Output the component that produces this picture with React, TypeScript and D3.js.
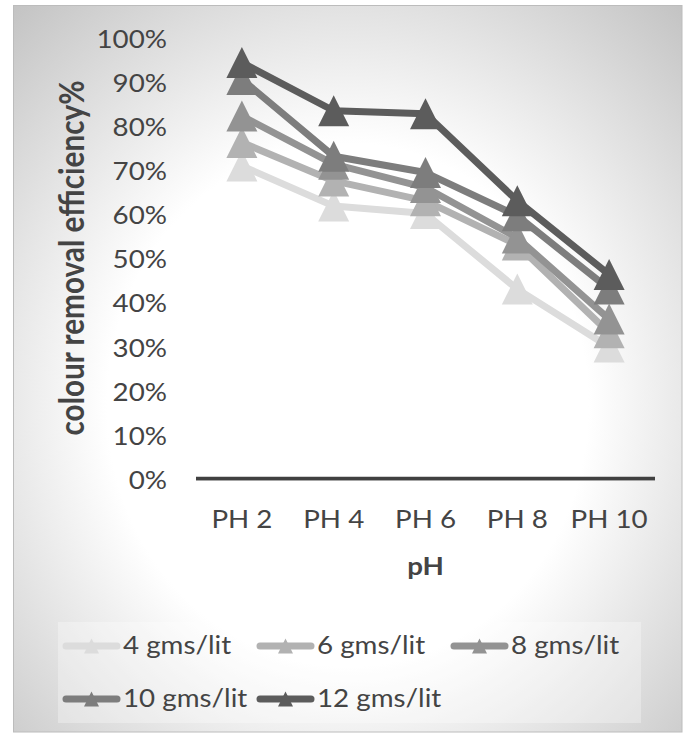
import React from "react";
import * as d3 from "d3";

// pH categories on the x axis
const categories = ["PH 2", "PH 4", "PH 6", "PH 8", "PH 10"];

// Adsorbent dose series (colour removal efficiency, fraction)
const seriesNames = ["4 gms/lit", "6 gms/lit", "8 gms/lit", "10 gms/lit", "12 gms/lit"];
const dose4 = [0.708, 0.617, 0.6, 0.429, 0.298];
const dose6 = [0.761, 0.674, 0.629, 0.529, 0.33];
const dose8 = [0.821, 0.712, 0.659, 0.545, 0.361];
const dose10 = [0.904, 0.73, 0.693, 0.595, 0.429];
const dose12 = [0.942, 0.833, 0.826, 0.629, 0.462];
const seriesValues = [dose4, dose6, dose8, dose10, dose12];
const seriesColors = ["#dcdcdc", "#b2b2b2", "#939393", "#7d7d7d", "#5c5c5c"];

const yTicks = [0, 0.1, 0.2, 0.3, 0.4, 0.5, 0.6, 0.7, 0.8, 0.9, 1.0];

const W = 685;
const H = 733;
const SX = 1.11; // horizontal glyph stretch
const FONT = "Lato, 'Noto Sans', sans-serif";
const TEXT = "#444444";

const x = d3.scaleBand<string>().domain(categories).range([196, 655]);
const y = d3.scaleLinear().domain([0, 1]).range([478.5, 37]);

const line = d3
  .line<[number, number]>()
  .x((d) => d[0])
  .y((d) => d[1]);

function tri(cx: number, cy: number, w: number, h: number) {
  return `M${cx},${cy - h / 2}L${cx + w / 2},${cy + h / 2}L${cx - w / 2},${cy + h / 2}Z`;
}

function SText(props: {
  x: number;
  y: number;
  anchor?: string;
  size: number;
  weight?: string;
  children: React.ReactNode;
}) {
  return (
    <g transform={`translate(${props.x},${props.y}) scale(${SX},1)`}>
      <text
        textAnchor={props.anchor || "start"}
        fontFamily={FONT}
        fontSize={props.size}
        fontWeight={props.weight || "normal"}
        fill={TEXT}
      >
        {props.children}
      </text>
    </g>
  );
}

export default function App() {
  const cx = (c: string) => (x(c) as number) + x.bandwidth() / 2;
  const legendCols = [63, 257, 451];
  const legendRows = [646, 699];

  return (
    <svg
      width={W}
      height={H}
      style={{ position: "absolute", left: 0, top: 0, display: "block" }}
    >
      <defs>
        <radialGradient id="bgGrad" cx="0.5" cy="0.55" r="0.75">
          <stop offset="0" stopColor="#ffffff" />
          <stop offset="0.48" stopColor="#ffffff" />
          <stop offset="1" stopColor="#c2c2c2" />
        </radialGradient>
      </defs>
      <rect x={0} y={0} width={W} height={H} fill="#ffffff" />
      <rect
        x={13.5}
        y={5.5}
        width={668.5}
        height={726.5}
        fill="url(#bgGrad)"
        stroke="#bcbcbc"
        strokeWidth={1}
      />

      {/* y tick labels */}
      {yTicks.map((t) => (
        <SText key={t} x={167} y={y(t) + 10.5} anchor="end" size={25}>
          {`${Math.round(t * 100)}%`}
        </SText>
      ))}

      {/* y axis title */}
      <g transform={`translate(84,258) scale(1.22,1) rotate(-90)`}>
        <text
          textAnchor="middle"
          fontFamily={FONT}
          fontSize={28}
          fontWeight="bold"
          fill={TEXT}
          textLength={355}
          lengthAdjust="spacingAndGlyphs"
        >
          colour removal efficiency%
        </text>
      </g>

      {/* category axis */}
      <line
        x1={196}
        x2={655}
        y1={y(0) + 1.5}
        y2={y(0) + 1.5}
        stroke="#c8c8c8"
        strokeWidth={2}
      />
      <line x1={196} x2={655} y1={y(0)} y2={y(0)} stroke="#404040" strokeWidth={3.3} />
      {categories.map((c) => (
        <SText key={c} x={cx(c)} y={528.3} anchor="middle" size={25}>
          {c}
        </SText>
      ))}
      <SText x={425.5} y={575} anchor="middle" size={25} weight="bold">
        pH
      </SText>

      {/* series */}
      {seriesValues.map((vals, i) => {
        const pts: [number, number][] = vals.map((v, j) => [cx(categories[j]), y(v)]);
        return (
          <g key={seriesNames[i]}>
            <path
              d={line(pts) || ""}
              fill="none"
              stroke={seriesColors[i]}
              strokeWidth={7}
              strokeLinejoin="round"
              strokeLinecap="round"
            />
            {pts.map((p, j) => (
              <path key={j} d={tri(p[0], p[1], 31, 31)} fill={seriesColors[i]} />
            ))}
          </g>
        );
      })}

      {/* legend */}
      <rect x={58} y={622} width={583} height={101} fill="#ffffff" fillOpacity={0.3} />
      {seriesNames.map((name, i) => {
        const col = legendCols[i % 3];
        const row = legendRows[Math.floor(i / 3)];
        return (
          <g key={name}>
            <line
              x1={col + 3}
              x2={col + 54}
              y1={row}
              y2={row}
              stroke={seriesColors[i]}
              strokeWidth={7}
              strokeLinecap="round"
            />
            <path d={tri(col + 28.5, row, 15, 15)} fill={seriesColors[i]} />
            <SText x={col + 60} y={row + 7.6} size={25}>
              {name}
            </SText>
          </g>
        );
      })}
    </svg>
  );
}
